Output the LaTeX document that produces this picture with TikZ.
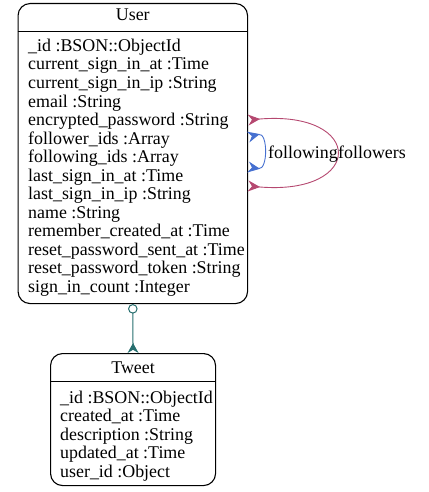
\documentclass[tikz,border=0pt]{standalone}
\usepackage{fontspec}
\setmainfont{Liberation Serif}
\usetikzlibrary{arrows.meta}
\definecolor{followerpink}{RGB}{181,72,112}
\definecolor{followingblue}{RGB}{70,112,208}
\definecolor{ownsteal}{RGB}{38,110,110}

\begin{document}
\begin{tikzpicture}[x=1pt,y=1pt]
        \tikzset{Entity/.style={%
                shape=rectangle,%
                draw=black,%
                rounded corners=12pt,%
                line width=1.1pt,%
                inner sep=0pt,%
                anchor=north west,%
            }}
        \tikzset{Field/.style={%
                anchor=base west,%
                inner sep=0pt,%
                font=\fontsize{17.9}{18.5}\selectfont,%
            }}
        \tikzset{Title/.style={anchor=base, inner sep=0pt, font=\fontsize{17.9}{18.5}\selectfont}}
        \tikzset{Loop/.style={line width=0.9pt, {Stealth[reversed,length=12pt,width=11pt]}-{Stealth[reversed,length=12pt,width=11pt]}}}

        \useasboundingbox (0,0) rectangle (428,-492);

        % User
        \node[Entity, minimum width=229.5, minimum height=300] (user) at (17.5,-3) {};
        \node[Title] (usertitle) at (user.north |- 0,-20.7) {User};
        \draw[line width=1.1pt] ([yshift=-28.7]user.north west) -- ([yshift=-28.7]user.north east);
        \foreach \field [count=\i from 0] in {%
                \_id :BSON::ObjectId, current\_sign\_in\_at :Time, current\_sign\_in\_ip :String,%
                email :String, encrypted\_password :String, follower\_ids :Array,%
                following\_ids :Array, last\_sign\_in\_at :Time, last\_sign\_in\_ip :String,%
                name :String, remember\_created\_at :Time, reset\_password\_sent\_at :Time,%
                reset\_password\_token :String, sign\_in\_count :Integer}
            \node[Field] (userfield\i) at (28,-51.5-18.5*\i) {\field};

        % Tweet
        \node[Entity, minimum width=165, minimum height=132] (tweet) at (50,-353) {};
        \node[Title] (tweettitle) at (tweet.north |- 0,-373) {Tweet};
        \draw[line width=1.1pt] ([yshift=-28.7]tweet.north west) -- ([yshift=-28.7]tweet.north east);
        \foreach \field [count=\i from 0] in {%
                \_id :BSON::ObjectId, created\_at :Time, description :String,%
                updated\_at :Time, user\_id :Object}
            \node[Field] (tweetfield\i) at (60,-403-18.5*\i) {\field};

        % relations
        \draw[ownsteal, line width=1pt, {Circle[open,length=9.5pt,width=9.5pt]}-{Stealth[reversed,length=10pt,width=11pt]}] (user.south) -- (tweet.north);
        \draw[Loop, followerpink] ([yshift=-117]user.north east) .. controls (365,-110) and (365,-196) .. ([yshift=-183]user.north east);
        \draw[Loop, followingblue] ([yshift=-134]user.north east) .. controls (268,-132) and (268,-170) .. ([yshift=-164]user.north east);
        \node[Field] (lblfollowing) at (268,-158) {following};
        \node[Field] (lblfollowers) at (lblfollowing.base east) {followers};
\end{tikzpicture}
\end{document}
